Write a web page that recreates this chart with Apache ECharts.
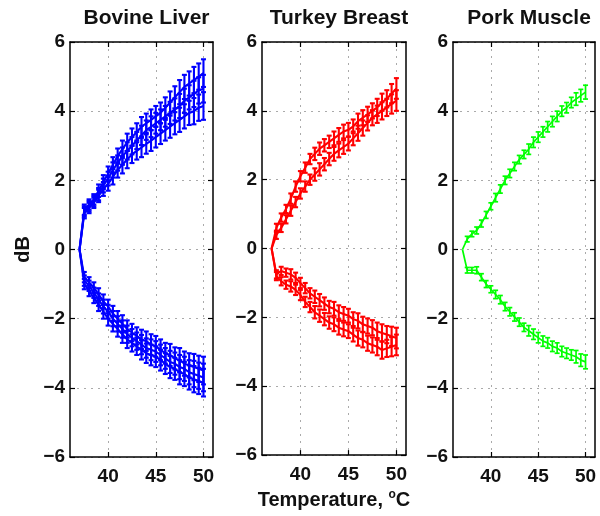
<!DOCTYPE html>
<html><head><meta charset="utf-8">
<script src="https://cdn.jsdelivr.net/npm/echarts@6/dist/echarts.min.js"></script>
<style>html,body{margin:0;padding:0;background:#fff}#c{width:600px;height:516px}</style>
</head><body><div id="c"></div>
<script>
// ---------- data ----------
const temps = [37,37.5,38,38.5,39,39.5,40,40.5,41,41.5,42,42.5,43,43.5,44,44.5,45,45.5,46,46.5,47,47.5,48,48.5,49,49.5,50];
const panelTitles = ['Bovine Liver', 'Turkey Breast', 'Pork Muscle'];
const panelColors = ['#0000ff', '#ff0000', '#00ff00'];
const xTickLabels = [40, 45, 50];
const yTickLabels = [-6, -4, -2, 0, 2, 4, 6];

// Bovine liver
const bovineUp1 = [0,1.15,1.3,1.45,1.7,1.95,2.2,2.45,2.7,2.9,3.1,3.25,3.4,3.55,3.65,3.75,3.85,3.95,4.1,4.25,4.4,4.55,4.7,4.8,4.9,5.0,5.1];
const bovineUp2 = [0,1.1,1.25,1.4,1.6,1.85,2.05,2.3,2.5,2.7,2.85,3.0,3.15,3.3,3.45,3.55,3.65,3.75,3.85,3.95,4.05,4.15,4.3,4.4,4.5,4.6,4.65];
const bovineUp3 = [0,1.05,1.2,1.35,1.55,1.75,1.9,2.1,2.3,2.45,2.6,2.75,2.85,2.95,3.05,3.15,3.25,3.35,3.45,3.55,3.65,3.75,3.85,3.95,4.0,4.1,4.15];
const bovineDn1 = [0,-0.8,-0.95,-1.1,-1.3,-1.5,-1.65,-1.85,-2.0,-2.15,-2.3,-2.4,-2.5,-2.6,-2.65,-2.75,-2.8,-2.9,-3.0,-3.05,-3.15,-3.2,-3.3,-3.35,-3.4,-3.45,-3.5];
const bovineDn2 = [0,-0.9,-1.05,-1.25,-1.45,-1.65,-1.8,-2.0,-2.15,-2.3,-2.45,-2.55,-2.65,-2.75,-2.85,-2.9,-2.95,-3.05,-3.15,-3.25,-3.3,-3.4,-3.45,-3.55,-3.6,-3.65,-3.7];
const bovineDn3 = [0,-1.0,-1.2,-1.4,-1.6,-1.8,-2.0,-2.15,-2.3,-2.45,-2.6,-2.7,-2.8,-2.9,-3.0,-3.05,-3.1,-3.2,-3.3,-3.4,-3.45,-3.55,-3.6,-3.7,-3.75,-3.8,-3.85];
const bovineErr = [0,0.15,0.15,0.15,0.18,0.2,0.2,0.22,0.22,0.25,0.25,0.25,0.25,0.28,0.28,0.3,0.3,0.3,0.3,0.32,0.32,0.35,0.35,0.35,0.38,0.38,0.4];

// Turkey breast
const turkeyUp1 = [0,0.6,0.9,1.15,1.45,1.8,2.1,2.35,2.6,2.75,2.9,3.0,3.1,3.2,3.3,3.4,3.45,3.55,3.7,3.8,3.9,4.0,4.1,4.25,4.35,4.5,4.65];
const turkeyUp2 = [0,0.4,0.6,0.85,1.1,1.35,1.6,1.8,2.0,2.15,2.3,2.45,2.6,2.75,2.85,2.95,3.05,3.2,3.35,3.5,3.65,3.8,3.9,4.0,4.1,4.2,4.3];
const turkeyDn1 = [0,-0.75,-0.65,-0.7,-0.75,-0.85,-1.0,-1.15,-1.3,-1.4,-1.5,-1.6,-1.7,-1.75,-1.85,-1.9,-1.95,-2.05,-2.1,-2.2,-2.25,-2.3,-2.4,-2.45,-2.5,-2.55,-2.6];
const turkeyDn2 = [0,-0.8,-0.95,-1.05,-1.1,-1.2,-1.35,-1.55,-1.7,-1.85,-1.95,-2.05,-2.15,-2.2,-2.3,-2.35,-2.4,-2.5,-2.6,-2.65,-2.75,-2.8,-2.85,-2.95,-2.9,-2.85,-2.8];
const turkeyErr = [0,0.12,0.12,0.12,0.15,0.15,0.15,0.15,0.15,0.18,0.18,0.18,0.18,0.2,0.2,0.2,0.2,0.2,0.22,0.22,0.22,0.22,0.25,0.25,0.25,0.28,0.3];

// Pork muscle
const porkUp = [0,0.3,0.45,0.55,0.75,1.0,1.25,1.5,1.75,2.0,2.2,2.4,2.6,2.75,2.9,3.1,3.25,3.4,3.55,3.7,3.85,4.0,4.1,4.25,4.35,4.45,4.55];
const porkDn = [0,-0.6,-0.6,-0.6,-0.8,-1.0,-1.15,-1.3,-1.45,-1.65,-1.8,-1.95,-2.1,-2.25,-2.35,-2.45,-2.55,-2.65,-2.7,-2.8,-2.85,-2.95,-3.0,-3.05,-3.1,-3.2,-3.25];
const porkErr = [0,0.08,0.08,0.1,0.1,0.1,0.1,0.12,0.12,0.12,0.12,0.12,0.12,0.12,0.15,0.15,0.15,0.15,0.15,0.15,0.15,0.15,0.15,0.15,0.18,0.18,0.2];

const panelCurves = [
  {curves: [bovineUp1, bovineUp2, bovineUp3, bovineDn1, bovineDn2, bovineDn3], err: bovineErr, lw: 2.1},
  {curves: [turkeyUp1, turkeyUp2, turkeyDn1, turkeyDn2], err: turkeyErr, lw: 2.1},
  {curves: [porkUp, porkDn], err: porkErr, lw: 1.7}
];

// ---------- layout ----------
const FONT = '"Liberation Sans", Arial, Helvetica, sans-serif';
const gridBoxes = [
  {left: 70, top: 42, width: 143, height: 415},
  {left: 262, top: 42, width: 144, height: 415},
  {left: 453, top: 42, width: 142, height: 415}
];

const fmtY = v => (v < 0 ? '\u2212' + Math.abs(v) : String(v));

const grid = [], xAxis = [], yAxis = [], series = [], title = [];
gridBoxes.forEach((g, i) => {
  grid.push(Object.assign({containLabel: false}, g));
  title.push({
    text: panelTitles[i], left: g.left + g.width / 2, top: 3, textAlign: 'center',
    textStyle: {fontFamily: FONT, fontWeight: 'bold', fontSize: 21, color: '#111'}
  });
  const axLine = {show: true, onZero: false, lineStyle: {color: '#000', width: 1.5}};
  const tick = {show: true, inside: true, length: 5, lineStyle: {color: '#000', width: 1.2}};
  const split = {show: true, lineStyle: {color: '#aaa', width: 1, type: [2, 5]}};
  xAxis.push({
    gridIndex: i, type: 'value', min: 36, max: 51, splitNumber: 3, minInterval: 5, maxInterval: 5,
    axisLine: axLine, axisTick: Object.assign({customValues: xTickLabels}, tick), splitLine: split,
    axisLabel: {customValues: xTickLabels, margin: 10,
      fontFamily: FONT, fontWeight: 'bold', fontSize: 19, color: '#111'},
    name: i === 1 ? 'Temperature, {sup|o}C' : '', nameLocation: 'middle', nameGap: 33,
    nameTextStyle: {fontFamily: FONT, fontWeight: 'bold', fontSize: 20, color: '#111', lineHeight: 22,
      rich: {sup: {fontFamily: FONT, fontWeight: 'bold', fontSize: 12, color: '#111', verticalAlign: 'top', lineHeight: 22}}}
  });
  xAxis.push({
    gridIndex: i, type: 'value', min: 36, max: 51, splitNumber: 3, minInterval: 5, maxInterval: 5, position: 'top',
    axisLine: axLine, axisTick: Object.assign({customValues: xTickLabels}, tick), splitLine: {show: false},
    axisLabel: {show: false}
  });
  yAxis.push({
    gridIndex: i, type: 'value', min: -6, max: 6, interval: 2,
    axisLine: axLine, axisTick: tick, splitLine: split,
    axisLabel: {formatter: fmtY, margin: 5, fontFamily: FONT, fontWeight: 'bold', fontSize: 19, color: '#111'},
    name: i === 0 ? 'dB' : '', nameLocation: 'middle', nameGap: 37,
    nameTextStyle: {fontFamily: FONT, fontWeight: 'bold', fontSize: 20, color: '#111'}
  });
  yAxis.push({
    gridIndex: i, type: 'value', min: -6, max: 6, interval: 2, position: 'right',
    axisLine: axLine, axisTick: tick, splitLine: {show: false}, axisLabel: {show: false}
  });

  const color = panelColors[i];
  const err = panelCurves[i].err;
  const LW = panelCurves[i].lw;
  panelCurves[i].curves.forEach(vals => {
    series.push({
      type: 'line', xAxisIndex: 2 * i, yAxisIndex: 2 * i, symbol: 'none', silent: true,
      lineStyle: {color: color, width: LW}, z: 3,
      data: temps.map((t, j) => [t, vals[j]])
    });
    series.push({
      type: 'custom', xAxisIndex: 2 * i, yAxisIndex: 2 * i, silent: true, z: 3,
      encode: {x: 0, y: 1},
      data: temps.map((t, j) => [t, vals[j], err[j]]),
      renderItem: (params, api) => {
        const x = api.value(0), y = api.value(1), e = api.value(2);
        if (!e) return null;
        const p1 = api.coord([x, y + e]), p2 = api.coord([x, y - e]);
        const w = 2.5;
        const st = {stroke: color, lineWidth: LW};
        return {type: 'group', children: [
          {type: 'line', shape: {x1: p1[0], y1: p1[1], x2: p2[0], y2: p2[1]}, style: st},
          {type: 'line', shape: {x1: p1[0] - w, y1: p1[1], x2: p1[0] + w, y2: p1[1]}, style: st},
          {type: 'line', shape: {x1: p2[0] - w, y1: p2[1], x2: p2[0] + w, y2: p2[1]}, style: st}
        ]};
      }
    });
  });
});

const chart = echarts.init(document.getElementById('c'), null, {renderer: 'canvas'});
chart.setOption({animation: false, backgroundColor: '#fff', title, grid, xAxis, yAxis, series});
</script>
</body></html>
